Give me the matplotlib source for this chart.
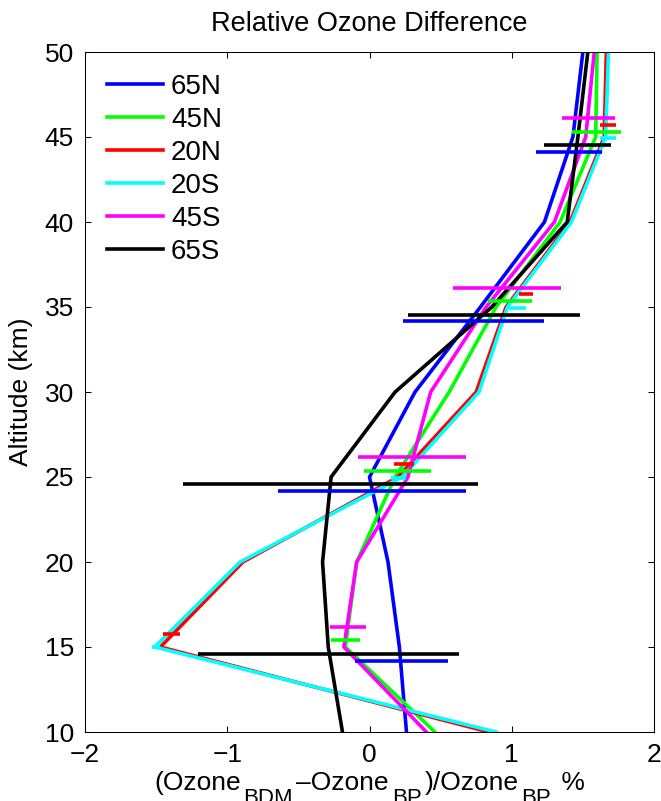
import numpy as np
from matplotlib import pyplot as plt
from matplotlib.transforms import IdentityTransform

plt.rcParams['font.family'] = ['Liberation Sans', 'DejaVu Sans']

# profile altitudes (km) and the six latitude bands
altitude = [10, 15, 20, 25, 30, 35, 40, 45, 50]
labels = ["65N", "45N", "20N", "20S", "45S", "65S"]
colors = ['#0000ff', '#00ff00', '#ff0000', '#00ffff', '#ff00ff', '#000000']

# relative difference (%) at each altitude, one row per band
diff = np.array([
    [0.26, 0.21, 0.13, 0.00, 0.32, 0.78, 1.23, 1.43, 1.50],      # 65N
    [0.46, -0.17, -0.09, 0.18, 0.56, 0.89, 1.34, 1.59, 1.60],    # 45N
    [0.84, -1.47, -0.89, 0.20, 0.75, 0.96, 1.41, 1.65, 1.665],   # 20N
    [0.89, -1.51, -0.91, 0.23, 0.77, 0.97, 1.42, 1.66, 1.68],    # 20S
    [0.40, -0.18, -0.09, 0.27, 0.43, 0.82, 1.30, 1.52, 1.58],    # 45S
    [-0.19, -0.29, -0.33, -0.27, 0.18, 0.86, 1.39, 1.465, 1.535],  # 65S
])

# error bars: altitude they are drawn at, left end, right end
err_alt = np.array([
    [14.20, 24.15, 34.15, 44.14],
    [15.40, 25.36, 35.35, 45.31],
    [15.79, 25.75, 35.74, 45.70],
    [15.01, 24.97, 34.96, 44.92],
    [16.18, 26.15, 36.13, 46.09],
    [14.58, 24.56, 34.55, 44.53],
])
err_lo = np.array([
    [-0.105, -0.645, 0.234, 1.167],
    [-0.27, -0.042, 0.832, 1.425],
    [-1.449, 0.171, 1.048, 1.617],
    [-1.53, 0.152, 0.978, 1.622],
    [-0.281, -0.082, 0.586, 1.353],
    [-1.203, -1.308, 0.274, 1.23],
])
err_hi = np.array([
    [0.551, 0.68, 1.224, 1.634],
    [-0.066, 0.434, 1.144, 1.765],
    [-1.329, 0.312, 1.149, 1.735],
    [-1.47, 0.258, 1.097, 1.735],
    [-0.028, 0.675, 1.348, 1.724],
    [0.628, 0.762, 1.482, 1.695],
])

fig = plt.figure(figsize=(6.61, 8.01), dpi=100)
ax = fig.add_axes([85 / 661, 69 / 801, 569 / 661, 680 / 801])

for i in range(len(labels)):
    ax.plot(diff[i], altitude, color=colors[i], lw=2.6, label=labels[i])
for i in range(len(labels)):
    ax.hlines(err_alt[i], err_lo[i], err_hi[i], color=colors[i], lw=2.6)

ax.set_xlim(-2, 2)
ax.set_ylim(10, 50)
ax.set_xticks([-2, -1, 0, 1, 2])
ax.set_yticks(np.arange(10, 51, 5))
ax.tick_params(direction='in', length=4, width=0.75, top=True, right=True,
               labelsize=19, pad=8)
for s in ax.spines.values():
    s.set_linewidth(0.75)

ax.set_title('Relative Ozone Difference', fontsize=19.5, pad=15)
ax.set_ylabel('Altitude (km)', fontsize=19, labelpad=8)

# x label with big, low subscripts (matlab tex style), laid out piece by piece
pieces = [("(Ozone", False), ("BDM", True), ("–Ozone", False), ("BP", True),
          (")/Ozone", False), ("BP", True), (" %", False)]
renderer = fig.canvas.get_renderer()
texts = []
for s, sub in pieces:
    t = fig.text(0, 0, s, fontsize=16 if sub else 19, ha='left', va='baseline',
                 transform=IdentityTransform())
    texts.append(t)
widths = [t.get_window_extent(renderer).width for t in texts]
gap = 3
total = sum(widths) + gap * 2 * sum(1 for p in pieces if p[1])
xc = (ax.get_position().x0 + ax.get_position().x1) / 2 * fig.bbox.width
x = xc - total / 2
base = fig.bbox.height - 790
for t, w, (s, sub) in zip(texts, widths, pieces):
    if sub:
        x += gap
        t.set_position((x, base - 14))
        x += w + gap
    else:
        t.set_position((x, base))
        x += w

ax.legend(loc='upper left', frameon=False, fontsize=20, handlelength=2.0,
          handletextpad=0.3, labelspacing=0.25, borderaxespad=0.4,
          bbox_to_anchor=(0.0, 1.0))

fig.savefig('out.png', dpi=100)
